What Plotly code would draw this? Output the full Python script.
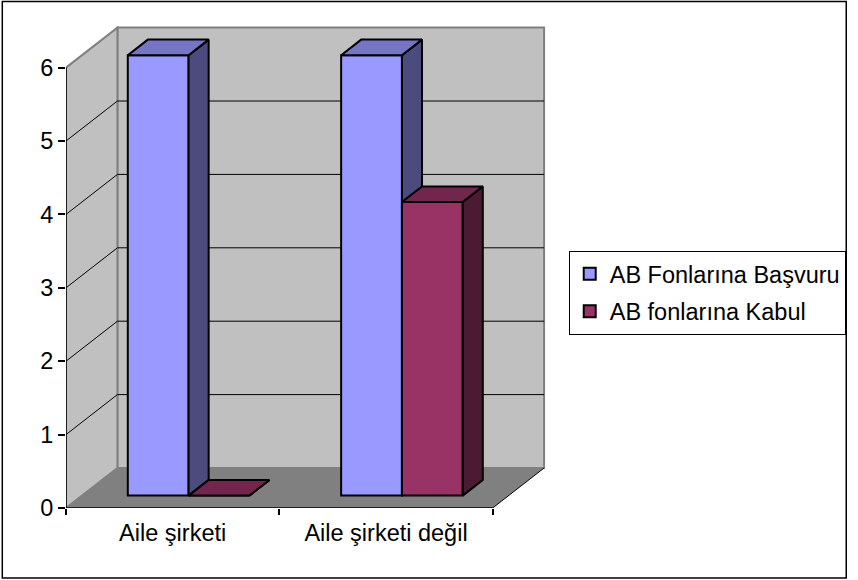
import plotly.graph_objects as go

CATEGORIES = ["Aile şirketi", "Aile şirketi değil"]
SERIES = ["AB Fonlarına Başvuru", "AB fonlarına Kabul"]
BASVURU = [6, 6]
KABUL = [0, 4]
Y_TICKS = [0, 1, 2, 3, 4, 5, 6]

FRONT = ["#9999FF", "#993366"]
TOP = ["#7575C4", "#73264D"]
SIDE = ["#4B4B7E", "#4C1A33"]
WALL = "#C0C0C0"
FLOOR = "#808080"
EDGE = "#808080"
FONT = dict(family="Arial, 'Liberation Sans', sans-serif", size=23.5, color="black")

# fake 3D: x is one unit per category, y is in data units
DEPTH_X, DEPTH_Y = 0.241, 0.545   # full depth of floor / walls
BAR_Z0, BAR_Z1 = 0.31, 0.70       # bar front/back as fraction of depth
BAR_W = 0.285
Y_MAX = 6

fx, fy = BAR_Z0 * DEPTH_X, BAR_Z0 * DEPTH_Y
ddx, ddy = (BAR_Z1 - BAR_Z0) * DEPTH_X, (BAR_Z1 - BAR_Z0) * DEPTH_Y
n_cat = len(CATEGORIES)
centers = [i + 0.5 for i in range(n_cat)]

fig = go.Figure()

for i, (name, vals) in enumerate(zip(SERIES, [BASVURU, KABUL])):
    off = -BAR_W if i == 0 else 0.0
    fig.add_trace(go.Bar(
        name=name, x=centers, y=vals, base=fy, width=BAR_W, offset=off + fx,
        marker=dict(color=FRONT[i], line=dict(color="black", width=2)),
        customdata=vals, hovertemplate="%{customdata}<extra>" + name + "</extra>",
        legendgroup=name, zorder=2 * i,
    ))
    for face, color in (("side", SIDE[i]), ("top", TOP[i])):
        xs, ys = [], []
        for c, v in zip(centers, vals):
            x0 = c + off + fx
            x1 = x0 + BAR_W
            yt = fy + v
            if face == "side":
                px = [x1, x1 + ddx, x1 + ddx, x1, x1]
                py = [fy, fy + ddy, yt + ddy, yt, fy]
            else:
                px = [x0, x1, x1 + ddx, x0 + ddx, x0]
                py = [yt, yt, yt + ddy, yt + ddy, yt]
            xs += px + [None]
            ys += py + [None]
        fig.add_trace(go.Scatter(
            x=xs, y=ys, mode="lines", fill="toself", fillcolor=color,
            line=dict(color="black", width=2), hoverinfo="skip",
            showlegend=False, zorder=2 * i + 1,
        ))

shapes = [
    # back wall
    dict(type="rect", x0=DEPTH_X, x1=n_cat + DEPTH_X, y0=DEPTH_Y, y1=Y_MAX + DEPTH_Y,
         fillcolor=WALL, line=dict(color=EDGE, width=2)),
    # left wall
    dict(type="path", path=f"M0,0 L{DEPTH_X},{DEPTH_Y} L{DEPTH_X},{Y_MAX + DEPTH_Y} L0,{Y_MAX} Z",
         fillcolor=WALL, line=dict(color=EDGE, width=2)),
    # floor
    dict(type="path", path=f"M0,0 L{n_cat},0 L{n_cat + DEPTH_X},{DEPTH_Y} L{DEPTH_X},{DEPTH_Y} Z",
         fillcolor=FLOOR, line=dict(width=0)),
    dict(type="line", x0=n_cat, y0=0, x1=n_cat + DEPTH_X, y1=DEPTH_Y, line=dict(color="black", width=1)),
]
for v in Y_TICKS[1:-1]:
    shapes.append(dict(type="line", x0=DEPTH_X, x1=n_cat + DEPTH_X, y0=v + DEPTH_Y, y1=v + DEPTH_Y,
                       line=dict(color="black", width=1)))
    shapes.append(dict(type="line", x0=0, x1=DEPTH_X, y0=v, y1=v + DEPTH_Y,
                       line=dict(color="black", width=1)))
# front axes
shapes.append(dict(type="line", x0=0, x1=0, y0=0, y1=Y_MAX, line=dict(color="black", width=1.5)))
shapes.append(dict(type="line", x0=0, x1=n_cat, y0=0, y1=0, line=dict(color="black", width=1.5)))
for s in shapes:
    s.update(xref="x", yref="y", layer="below")

# chart border around the whole picture
W, H = 858, 580
L, R, T, B = 66, 306, 26, 72
pw, ph = W - L - R, H - T - B
shapes.append(dict(type="rect", xref="paper", yref="paper",
                   x0=(1.5 - L) / pw, x1=(W - 2 - L) / pw, y0=-(H - 2 - T - ph) / ph, y1=(ph + T - 1.5) / ph,
                   line=dict(color="black", width=1.5), fillcolor="rgba(0,0,0,0)", layer="above"))

fig.update_layout(
    width=W, height=H,
    margin=dict(l=L, r=R, t=T, b=B),
    paper_bgcolor="white", plot_bgcolor="white",
    font=FONT,
    barmode="overlay",
    shapes=shapes,
    showlegend=True,
    legend=dict(x=(575 - L) / pw, y=(H - B - 251) / ph, xanchor="left", yanchor="top",
                bordercolor="black", borderwidth=1, bgcolor="white",
                font=FONT, tracegroupgap=4, itemwidth=30),
    xaxis=dict(range=[0, 2.25], tickvals=centers, ticktext=CATEGORIES, ticks="",
               showgrid=False, zeroline=False, showline=False, ticklabelstandoff=8,
               minor=dict(tickvals=list(range(n_cat + 1)), ticks="outside", ticklen=6,
                          tickcolor="black", tickwidth=1.5, showgrid=False)),
    yaxis=dict(range=[0, 6.567], tickvals=Y_TICKS, ticks="outside", ticklen=7,
               tickcolor="black", tickwidth=1.5, showgrid=False, zeroline=False, showline=False),
)

fig.write_html("out.html", config={"displayModeBar": False},
               post_script="document.body.style.margin='0';"
                           "document.documentElement.style.overflow='hidden';")
